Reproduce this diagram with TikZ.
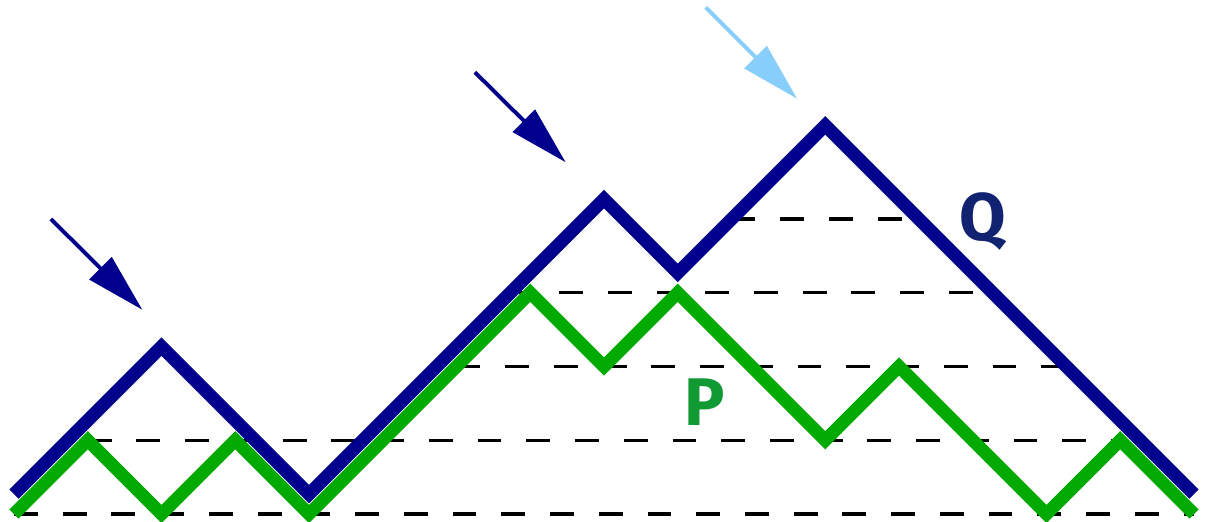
\documentclass[tikz,border=0pt]{standalone}
\usepackage{fontspec}
\usepackage{tikz}
\usetikzlibrary{arrows.meta}
\newfontfamily\pathfont{Fira Sans}
\definecolor{qblue}{RGB}{0,0,140}
\definecolor{pgreen}{RGB}{0,170,0}
\definecolor{qtext}{RGB}{16,34,112}
\definecolor{ptext}{RGB}{17,153,51}
\definecolor{skyarrow}{RGB}{135,206,250}

\begin{document}
\begin{tikzpicture}[
  >=Latex,
  level/.style={line width=1.2pt, dash pattern=on 9.2pt off 9.6pt},
  qpath/.style={draw=qblue, line width=5pt, line join=miter},
  ppath/.style={draw=pgreen, line width=5pt, line join=miter},
  ptr/.style={-{Triangle[length=0.8cm,width=0.42cm]}, line width=1.5pt},
  lbl/.style={font=\pathfont\bfseries\fontsize{26}{26}\selectfont, inner sep=0pt}
]
\useasboundingbox (-0.19,-0.095) rectangle (16.176,6.97);
% levels
\draw[level] (0,0) -- (16,0);
\draw[level] (1,1) -- (15,1);
\draw[level] (6,2) -- (14.27,2);
\draw[level] (6.73,3) -- (13.27,3);
\draw[level] (9.73,4) -- (12.27,4);
% paths
\draw[qpath] (0,0.27) -- (2,2.27) -- (4,0.27) -- (8,4.27) -- (9,3.27) -- (11,5.27) -- (16,0.27);
\draw[ppath] (0,0) -- (1,1) -- (2,0) -- (3,1) -- (4,0) -- (7,3) -- (8,2) -- (9,3) -- (11,1) -- (12,2) -- (14,0) -- (15,1) -- (16,0);
% arrows at the peaks
\coordinate (a1) at (0.50,4.00);
\coordinate (t1) at (1.74,2.77);
\coordinate (a2) at (6.25,5.99);
\coordinate (t2) at (7.48,4.77);
\coordinate (a3) at (9.38,6.87);
\coordinate (t3) at (10.62,5.63);
\draw[ptr, qblue] (a1) -- (t1);
\draw[ptr, qblue] (a2) -- (t2);
\draw[ptr, skyarrow] (a3) -- (t3);
% labels
\node[lbl, text=qtext] (q) at (13.13,3.96) {Q};
\node[lbl, text=ptext] (p) at (9.37,1.52) {P};
\end{tikzpicture}
\end{document}
